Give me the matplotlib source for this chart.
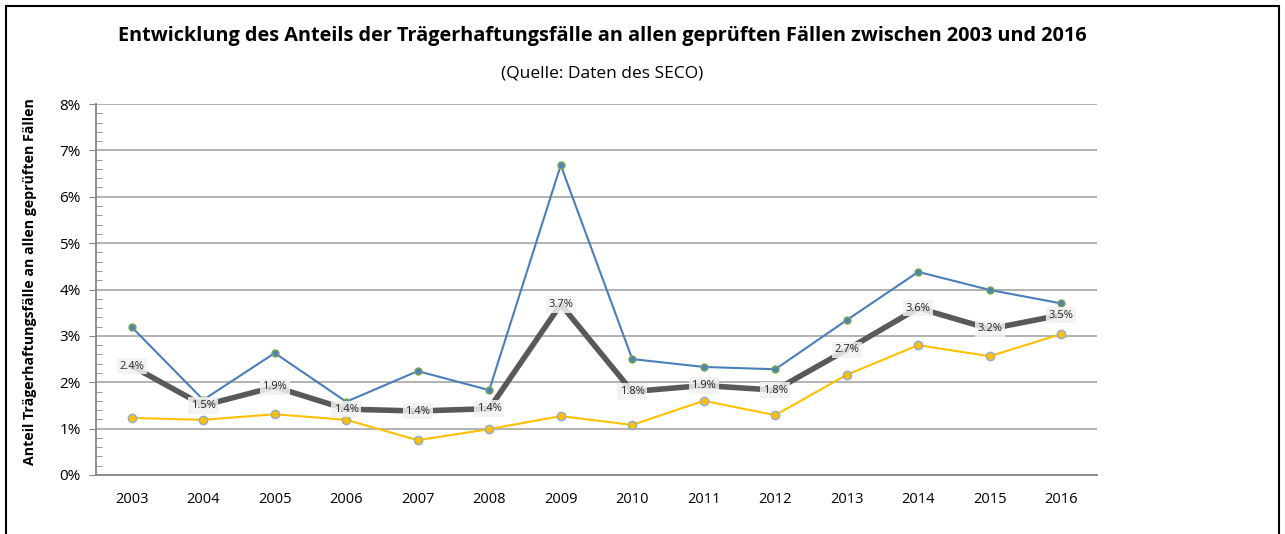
import matplotlib
matplotlib.use("Agg")
import matplotlib.pyplot as plt
from matplotlib.ticker import MultipleLocator, FuncFormatter
from matplotlib.patches import Rectangle

years = ["2003", "2004", "2005", "2006", "2007", "2008", "2009",
         "2010", "2011", "2012", "2013", "2014", "2015", "2016"]
series_blue = [3.19, 1.62, 2.63, 1.58, 2.24, 1.83, 6.68,
               2.50, 2.33, 2.28, 3.34, 4.38, 3.99, 3.70]
series_yellow = [1.23, 1.19, 1.31, 1.19, 0.75, 0.99, 1.27,
                 1.08, 1.60, 1.29, 2.16, 2.80, 2.56, 3.04]
series_avg = [2.35, 1.50, 1.90, 1.42, 1.38, 1.43, 3.68,
              1.80, 1.93, 1.83, 2.70, 3.60, 3.15, 3.45]
avg_labels = ["2.4%", "1.5%", "1.9%", "1.4%", "1.4%", "1.4%", "3.7%",
              "1.8%", "1.9%", "1.8%", "2.7%", "3.6%", "3.2%", "3.5%"]

title = "Entwicklung des Anteils der Trägerhaftungsfälle an allen geprüften Fällen zwischen 2003 und 2016"
subtitle = "(Quelle: Daten des SECO)"
ylabel = "Anteil Trägerhaftungsfälle an allen geprüften Fällen"

plt.rcParams['font.family'] = ['Open Sans', 'DejaVu Sans']

W, H = 1285, 534
fig = plt.figure(figsize=(W / 100, H / 100), dpi=100)
ax = fig.add_axes([96 / W, 1 - 475 / H, (1097 - 96) / W, (475 - 104) / H])

# outer frame
fig.patches.append(Rectangle((6 / W, -0.05), (1279 - 6) / W, 1 - 6 / H + 0.05,
                             transform=fig.transFigure, fill=False,
                             edgecolor="black", linewidth=1.5))

x = list(range(len(years)))
ax.plot(x, series_blue, color="#4A7EBB", lw=1.5, marker="o", ms=5,
        markerfacecolor="#4F81BD", markeredgecolor="#77A84A", markeredgewidth=1, zorder=3)
ax.plot(x, series_yellow, color="#FFC000", lw=1.5, marker="o", ms=6,
        markerfacecolor="#FFC000", markeredgecolor="#8EAADB", markeredgewidth=1, zorder=3)
ax.plot(x, series_avg, color="#595959", lw=4, zorder=4, solid_capstyle="round")

for xi, yi, lab in zip(x, series_avg, avg_labels):
    ax.text(xi, yi, lab, ha="center", va="center", fontsize=8, color="#262626",
            zorder=6, bbox=dict(boxstyle="square,pad=0.25", facecolor="#F2F2F2",
                                edgecolor="none", alpha=0.85))

ax.set_xlim(-0.5, len(years) - 0.5)
ax.set_ylim(0, 8)
ax.set_xticks(x)
ax.set_xticklabels(years, fontsize=10.5)
ax.tick_params(axis="x", length=0, pad=12)
ax.yaxis.set_major_locator(MultipleLocator(1))
ax.yaxis.set_minor_locator(MultipleLocator(0.2))
ax.yaxis.set_major_formatter(FuncFormatter(lambda v, p: f"{int(round(v))}%"))
ax.tick_params(axis="y", which="major", length=5, direction="out", color="#868686", labelsize=11, pad=6)
ax.tick_params(axis="y", which="minor", length=4, direction="in", color="#868686")
ax.grid(axis="y", which="major", color="#A6A6A6", lw=1.2)
ax.set_axisbelow(True)
for s in ["top", "right"]:
    ax.spines[s].set_visible(False)
ax.spines["left"].set_color("#868686")
ax.spines["bottom"].set_color("#868686")
ax.spines["left"].set_linewidth(1.3)
ax.spines["bottom"].set_linewidth(1.3)

fig.text(602 / W, 1 - 36 / H, title, ha="center", va="center", fontsize=14.3, fontweight="bold")
fig.text(602 / W, 1 - 74 / H, subtitle, ha="center", va="center", fontsize=12.5)
fig.text(30 / W, 1 - 282 / H, ylabel, ha="center", va="center", rotation=90,
         fontsize=10.2, fontweight="bold")

fig.savefig("out.png", dpi=100)
